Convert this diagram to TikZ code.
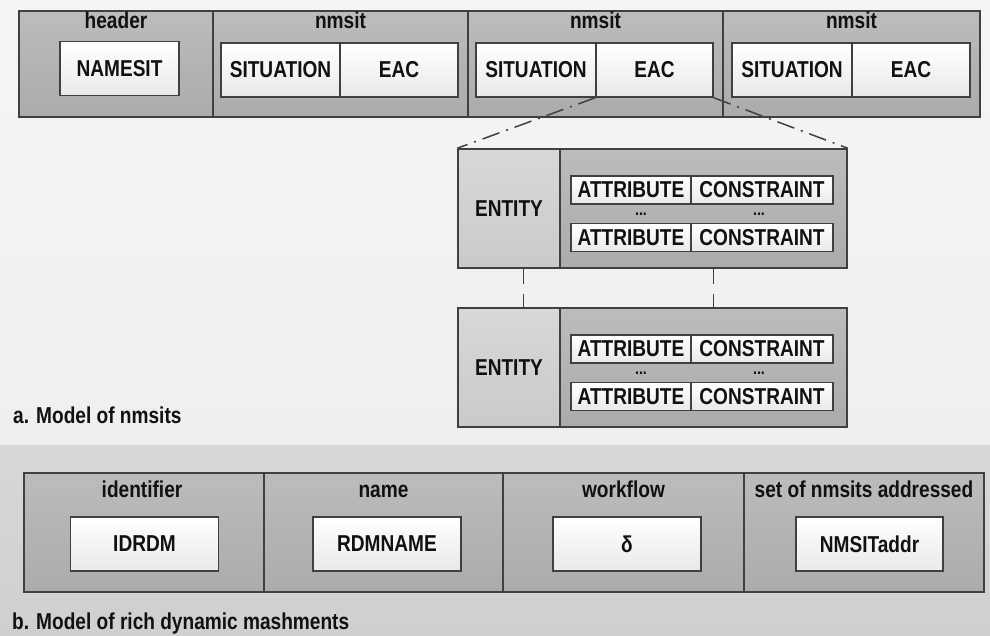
\documentclass[tikz,border=0pt]{standalone}
\usepackage{fontspec}
\newfontfamily\dfam{Liberation Sans}[FakeStretch=0.83]
\newcommand\myfont{\dfam\bfseries\fontsize{23}{27}\selectfont}
\newcommand\mydots{\dfam\bfseries\fontsize{17}{18}\selectfont}
\definecolor{bd}{HTML}{404040}
\definecolor{barT}{HTML}{BCBCBC}
\definecolor{barB}{HTML}{ABABAB}
\definecolor{entT}{HTML}{D8D8D8}
\definecolor{entB}{HTML}{CACACA}
\definecolor{wB}{HTML}{E9E9E9}
\definecolor{bgT}{HTML}{F5F5F5}
\definecolor{bgM}{HTML}{EFEFEF}
\definecolor{bgBt}{HTML}{D8D8D8}
\definecolor{bgBb}{HTML}{CFCFCF}
\definecolor{txt}{HTML}{111111}
\tikzset{
  sect/.style={draw=bd, line width=1.5pt, top color=barT, bottom color=barB, inner sep=0pt},
  wbox/.style={draw=bd, line width=1.5pt, top color=white, bottom color=wB, inner sep=0pt, minimum height=54pt, font=\myfont, text=txt},
  entbox/.style={draw=bd, line width=1.5pt, top color=entT, bottom color=entB, inner sep=0pt, minimum height=119pt, minimum width=102pt, font=\myfont, text=txt},
  attbox/.style={draw=bd, line width=1.5pt, top color=barT, bottom color=barB, inner sep=0pt, minimum height=119pt, minimum width=287pt},
  cell/.style={draw=bd, line width=1.8pt, top color=white, bottom color=wB, inner sep=0pt, minimum height=28pt, font=\myfont, text=txt},
  lbl/.style={anchor=base, inner sep=0pt, font=\myfont, text=txt},
  dotsl/.style={anchor=base, inner sep=0pt, font=\mydots, text=txt, text height=3pt, text depth=0pt},
  ddline/.style={draw=bd, line width=1.5pt, dash pattern=on 18pt off 7pt on 2pt off 7pt},
  dsline/.style={draw=bd, line width=1.3pt, dash pattern=on 15pt off 10pt},
}
\begin{document}
\begin{tikzpicture}[x=1pt,y=-1pt]
\useasboundingbox (0,0) rectangle (990,635);
\fill[top color=bgT, bottom color=bgM] (0,0) rectangle (990,445);
\fill[top color=bgBt, bottom color=bgBb] (0,445) rectangle (990,635);

% top bar
\node[sect, minimum width=194pt, minimum height=106pt] (hsec) at (116,64) {};
\node[sect, minimum width=255pt, minimum height=106pt] (nsA) at (340.5,64) {};
\node[sect, minimum width=255pt, minimum height=106pt] (nsB) at (595.5,64) {};
\node[sect, minimum width=257pt, minimum height=106pt] (nsC) at (851.5,64) {};
\node[lbl] (lh) at (116,28.5) {header};
\node[lbl] (lA) at (340.5,28.5) {nmsit};
\node[lbl] (lB) at (595.5,28.5) {nmsit};
\node[lbl] (lC) at (851.5,28.5) {nmsit};
\node[wbox, minimum width=119pt] (namesit) at (119.5,68.5) {NAMESIT};
\node[wbox, minimum width=119pt] (sitA) at (280.5,70) {SITUATION};
\node[wbox, minimum width=118pt] (eacA) at (399,70) {EAC};
\node[wbox, minimum width=120pt] (sitB) at (536,70) {SITUATION};
\node[wbox, minimum width=117pt] (eacB) at (654.5,70) {EAC};
\node[wbox, minimum width=120pt] (sitC) at (792,70) {SITUATION};
\node[wbox, minimum width=118pt] (eacC) at (911,70) {EAC};

% expanded boxes
\node[entbox] (ent1) at (509,208.5) {ENTITY};
\node[attbox] (ea1) at (703.5,208.5) {};
\node[cell, minimum width=120pt] (a11) at (631,190) {ATTRIBUTE};
\node[cell, minimum width=142pt] (c11) at (762,190) {CONSTRAINT};
\node[dotsl] (d1a) at (641,215) {...};
\node[dotsl] (d1b) at (759,215) {...};
\node[cell, minimum width=120pt] (a12) at (631,237.5) {ATTRIBUTE};
\node[cell, minimum width=142pt] (c12) at (762,237.5) {CONSTRAINT};

\node[entbox] (ent2) at (509,367.5) {ENTITY};
\node[attbox] (ea2) at (703.5,367.5) {};
\node[cell, minimum width=120pt] (a21) at (631,349) {ATTRIBUTE};
\node[cell, minimum width=142pt] (c21) at (762,349) {CONSTRAINT};
\node[dotsl] (d2a) at (641,374) {...};
\node[dotsl] (d2b) at (759,374) {...};
\node[cell, minimum width=120pt] (a22) at (631,396.5) {ATTRIBUTE};
\node[cell, minimum width=142pt] (c22) at (762,396.5) {CONSTRAINT};

% connectors
\draw[ddline] (eacB.south west) -- (ent1.north west);
\draw[ddline] (eacB.south east) -- (ea1.north east);
\draw[dsline] ([xshift=66pt]ent1.south west) -- ([xshift=66pt]ent2.north west);
\draw[dsline] ([xshift=154pt]ea1.south west) -- ([xshift=154pt]ea2.north west);

\node[anchor=base west, inner sep=0pt, font=\myfont, text=txt] (capA) at (13,423) {a. Model of nmsits};

% bottom bar
\node[sect, minimum width=240pt, minimum height=119pt] (bs1) at (144,532.5) {};
\node[sect, minimum width=239pt, minimum height=119pt] (bs2) at (383.5,532.5) {};
\node[sect, minimum width=241pt, minimum height=119pt] (bs3) at (623.5,532.5) {};
\node[sect, minimum width=240pt, minimum height=119pt] (bs4) at (864,532.5) {};
\node[lbl] (lb1) at (142,497.5) {identifier};
\node[lbl] (lb2) at (383.5,497.5) {name};
\node[lbl] (lb3) at (623.5,497.5) {workflow};
\node[lbl] (lb4) at (864,497.5) {set of nmsits addressed};
\node[wbox, minimum width=148pt] (idrdm) at (144.5,544) {IDRDM};
\node[wbox, minimum width=148pt] (rdmname) at (387,544) {RDMNAME};
\node[wbox, minimum width=148pt] (delta) at (627,544) {δ};
\node[wbox, minimum width=147pt] (nmsitaddr) at (869.5,544) {NMSITaddr};

\node[anchor=base west, inner sep=0pt, font=\myfont, text=txt] (capB) at (12,629) {b. Model of rich dynamic mashments};
\end{tikzpicture}
\end{document}
